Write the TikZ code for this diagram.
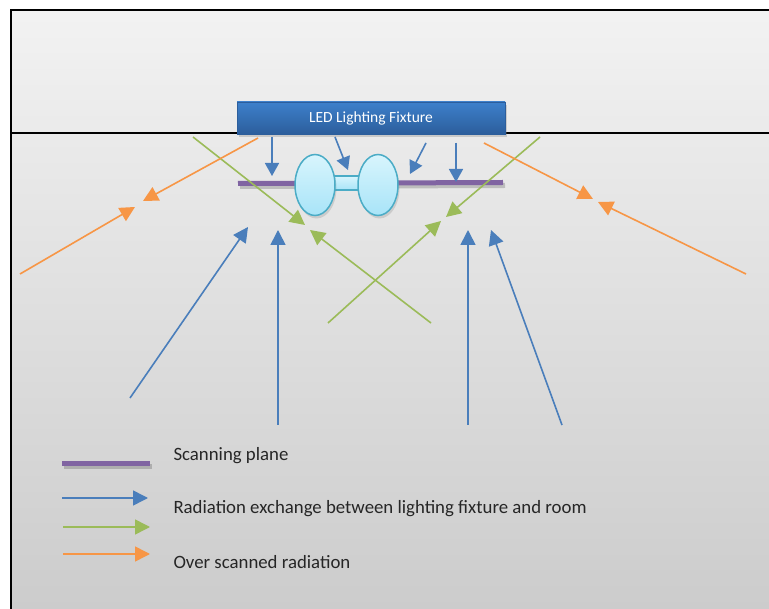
\documentclass[tikz,border=0pt]{standalone}
\usepackage{fontspec}
\setmainfont{Carlito}
\usetikzlibrary{arrows.meta,shadows,calc,shapes.geometric}
\definecolor{oblue}{HTML}{4A7EBB}
\definecolor{ogreen}{HTML}{9BBB59}
\definecolor{oorange}{HTML}{F79646}
\definecolor{opurple}{HTML}{8064A2}
\definecolor{boxtop}{HTML}{3D80CB}
\definecolor{boxbot}{HTML}{2C5E9C}
\definecolor{lamptop}{HTML}{D8F5FD}
\definecolor{lampbot}{HTML}{A8E4F8}
\definecolor{lampline}{HTML}{4BACC6}
\begin{document}
\begin{tikzpicture}[x=1pt,y=-1pt,
  ray/.style={line width=1.6pt,-{Triangle[length=15pt,width=15pt]}},
  shortray/.style={line width=1.6pt,-{Triangle[length=13pt,width=14pt]}},
  blueray/.style={ray,draw=oblue,fill=oblue},
  greenray/.style={ray,draw=ogreen,fill=ogreen},
  orangeray/.style={ray,draw=oorange,fill=oorange},
  lamp/.style={ellipse,draw=lampline,line width=1.5pt,top color=lamptop,bottom color=lampbot,minimum width=40pt,minimum height=61pt,inner sep=0pt},
  plane/.style={line width=5pt,draw=opurple},
  planeshadow/.style={line width=5pt,draw=black,opacity=0.18},
  legendtext/.style={anchor=west,font=\fontsize{18.8}{21}\selectfont,text=black!85}
]
\useasboundingbox (0,0) rectangle (769,609);
\fill[white] (0,0) rectangle (769,609);
\shade[top color=black!5,bottom color=black!20] (11,10) rectangle (769,609);
\draw[line width=1.5pt] (11,609) -- (11,10) -- (769,10);
\draw[line width=1.2pt] (11,133) -- (769,133);

% fixture
\node[draw=boxbot,top color=boxtop,bottom color=boxbot,minimum width=268pt,minimum height=32pt,
  drop shadow={shadow xshift=1.5pt,shadow yshift=-3pt,opacity=0.3},
  text=white,font=\fontsize{15.5}{17}\selectfont] (fix) at (371,118) {LED Lighting Fixture};

% scanning plane
\draw[planeshadow] (240,186.5) -- (505,185.5);
\draw[plane] (238,183.5) -- (503,182.5);

% lamp
\node[draw=lampline,line width=1.5pt,top color=lamptop,bottom color=lampbot,minimum width=26pt,minimum height=14pt,inner sep=0pt] (bar) at (347,183) {};
\node[lamp,drop shadow={shadow xshift=1.5pt,shadow yshift=-3pt,opacity=0.25}] (L1) at (315,185) {};
\node[lamp,drop shadow={shadow xshift=1.5pt,shadow yshift=-3pt,opacity=0.25}] (L2) at (378,185) {};

% coordinates
\coordinate (b1s) at (272,137); \coordinate (b1e) at (272,176);
\coordinate (b2s) at (335,137); \coordinate (b2e) at (348,170);
\coordinate (b3s) at (426,143); \coordinate (b3e) at (410,174);
\coordinate (b4s) at (456,143); \coordinate (b4e) at (456,182);
\coordinate (B1s) at (130,398); \coordinate (B1e) at (248,227);
\coordinate (B2s) at (278,425); \coordinate (B2e) at (278,230);
\coordinate (B3s) at (468,425); \coordinate (B3e) at (468,230);
\coordinate (B4s) at (562,425); \coordinate (B4e) at (491,230);
\coordinate (g1s) at (193,137); \coordinate (g1e) at (305,225);
\coordinate (g2s) at (431,323); \coordinate (g2e) at (310,230);
\coordinate (g3s) at (540,137); \coordinate (g3e) at (446,217);
\coordinate (g4s) at (328,323); \coordinate (g4e) at (441,221);
\coordinate (o1s) at (258,138); \coordinate (o1e) at (143,201);
\coordinate (o2s) at (20,274);  \coordinate (o2e) at (135,207);
\coordinate (o3s) at (484,143); \coordinate (o3e) at (593,199);
\coordinate (o4s) at (746,274); \coordinate (o4e) at (598,202);

\draw[blueray,shortray,draw=oblue,fill=oblue] (b1s) -- (b1e);
\draw[blueray,shortray,draw=oblue,fill=oblue] (b2s) -- (b2e);
\draw[blueray,shortray,draw=oblue,fill=oblue] (b3s) -- (b3e);
\draw[blueray,shortray,draw=oblue,fill=oblue] (b4s) -- (b4e);
\draw[blueray] (B1s) -- (B1e);
\draw[blueray] (B2s) -- (B2e);
\draw[blueray] (B3s) -- (B3e);
\draw[blueray] (B4s) -- (B4e);
\draw[greenray] (g1s) -- (g1e);
\draw[greenray] (g2s) -- (g2e);
\draw[greenray] (g3s) -- (g3e);
\draw[greenray] (g4s) -- (g4e);
\draw[orangeray] (o1s) -- (o1e);
\draw[orangeray] (o2s) -- (o2e);
\draw[orangeray] (o3s) -- (o3e);
\draw[orangeray] (o4s) -- (o4e);

% legend
\coordinate (lp1) at (62,464); \coordinate (lp2) at (150,464);
\draw[planeshadow] ($(lp1)+(2,3)$) -- ($(lp2)+(2,3)$);
\draw[plane] (lp1) -- (lp2);
\node[legendtext] (t1) at (170,456) {Scanning plane};
\coordinate (la1) at (62,498); \coordinate (la2) at (148,498);
\coordinate (lb1) at (63,527); \coordinate (lb2) at (150,527);
\coordinate (lc1) at (63,554); \coordinate (lc2) at (150,554);
\draw[blueray] (la1) -- (la2);
\draw[greenray] (lb1) -- (lb2);
\draw[orangeray] (lc1) -- (lc2);
\node[legendtext] (t2) at (170,509) {Radiation exchange between lighting fixture and room};
\node[legendtext] (t3) at (170,562) {Over scanned radiation};
\end{tikzpicture}
\end{document}
